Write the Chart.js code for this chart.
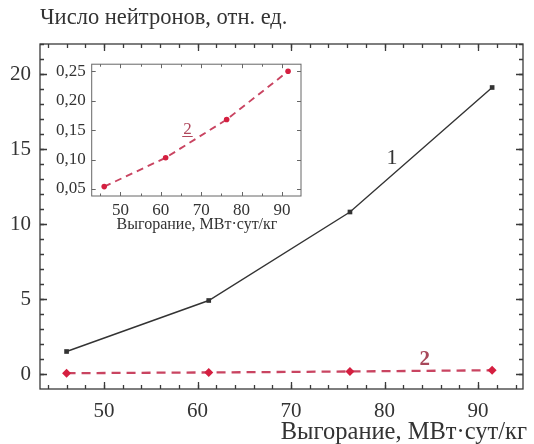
<!DOCTYPE html>
<html><head><meta charset="utf-8">
<script src="https://cdn.jsdelivr.net/npm/chart.js@4/dist/chart.umd.min.js"></script>
<style>
html,body{margin:0;padding:0;background:#fff}
#wrap{position:relative;width:534px;height:444px;overflow:hidden}
canvas{position:absolute;display:block}
</style>
</head><body>
<div id="wrap">
<canvas id="main" width="534" height="444" style="left:0;top:0;width:534px;height:444px"></canvas>
<canvas id="inset" width="270" height="190" style="left:40px;top:48px;width:270px;height:190px"></canvas>
</div>
<script>
// ---- data ----
const burnup = [46.0, 61.2, 76.3, 91.5];          // MW·day/kg
const neutrons1 = [1.5, 4.9, 10.8, 19.1];         // curve 1
const neutrons2 = [0.054, 0.103, 0.168, 0.25];    // curve 2
const mainXTicks = [50, 60, 70, 80, 90];
const mainYTicks = [0, 5, 10, 15, 20];
const insetXTicks = [50, 60, 70, 80, 90];
const insetYTicks = [0.05, 0.10, 0.15, 0.20, 0.25];
const yTitle = 'Число нейтронов, отн. ед.';
const xTitle = 'Выгорание, МВт·сут/кг';

const SERIF = '"Liberation Serif", "DejaVu Serif", serif';
const INK = '#333';
const RED_LINE = '#c94461';
const RED_PT = '#d51f40';

function range(a, b, s) { const r = []; for (let v = a; v <= b + 1e-9; v += s) r.push(+v.toFixed(6)); return r; }

// frame + inward ticks on all four sides, positioned by the chart's own scales
const frameTicks = {
  id: 'frameTicks',
  afterDraw(chart, args, o) {
    const {ctx, chartArea: a, scales: {x, y}} = chart;
    ctx.save();
    ctx.strokeStyle = o.color; ctx.lineWidth = o.width;
    ctx.strokeRect(a.left, a.top, a.right - a.left, a.bottom - a.top);
    const drawX = (vals, len) => vals.forEach(v => {
      const px = Math.round(x.getPixelForValue(v)) + 0.5;
      if (px < a.left || px > a.right) return;
      ctx.beginPath(); ctx.moveTo(px, a.bottom); ctx.lineTo(px, a.bottom - len);
      ctx.moveTo(px, a.top); ctx.lineTo(px, a.top + len); ctx.stroke();
    });
    const drawY = (vals, len) => vals.forEach(v => {
      const py = Math.round(y.getPixelForValue(v)) + 0.5;
      if (py < a.top || py > a.bottom) return;
      ctx.beginPath(); ctx.moveTo(a.left, py); ctx.lineTo(a.left + len, py);
      ctx.moveTo(a.right, py); ctx.lineTo(a.right - len, py); ctx.stroke();
    });
    drawX(o.xMinor, o.minorLen); drawY(o.yMinor, o.minorLen);
    drawX(o.xMajor, o.majorLen); drawY(o.yMajor, o.majorLen);
    ctx.restore();
  }
};

// text items: titles and curve labels
const texts = {
  id: 'texts',
  afterDraw(chart, args, o) {
    const {ctx, scales: {x, y}} = chart;
    ctx.save();
    (o.items || []).forEach(t => {
      ctx.font = t.font; ctx.fillStyle = t.color; ctx.textAlign = t.align || 'center';
      ctx.textBaseline = 'middle';
      const px = t.data ? x.getPixelForValue(t.x) : t.x;
      const py = t.data ? y.getPixelForValue(t.y) : t.y;
      ctx.fillText(t.text, px, py);
      if (t.underline) {
        const w = ctx.measureText(t.text).width;
        ctx.strokeStyle = t.color; ctx.lineWidth = 1;
        ctx.beginPath(); ctx.moveTo(px - w / 2 - 1, py + t.underline); ctx.lineTo(px + w / 2 + 1, py + t.underline); ctx.stroke();
      }
    });
    ctx.restore();
  }
};

const pts = ys => burnup.map((b, i) => ({x: b, y: ys[i]}));

// ---------- main chart ----------
new Chart(document.getElementById('main'), {
  type: 'line',
  data: {
    datasets: [
      { data: pts(neutrons1), borderColor: INK, borderWidth: 1.4, pointStyle: 'rect', pointRadius: 3.3,
        pointBackgroundColor: INK, pointBorderColor: INK, pointBorderWidth: 0, tension: 0 },
      { data: pts(neutrons2), borderColor: RED_LINE, borderWidth: 2.3, borderDash: [9, 6], pointStyle: 'rectRot',
        pointRadius: 4.5, pointBackgroundColor: RED_PT, pointBorderColor: RED_PT, pointBorderWidth: 0, tension: 0 }
    ]
  },
  options: {
    responsive: false, animation: false, devicePixelRatio: 1,
    layout: { padding: { left: 0, right: 11, top: 44, bottom: 0 } },
    plugins: {
      legend: { display: false }, tooltip: { enabled: false },
      frameTicks: { color: '#3a3a3a', width: 1.3, majorLen: 7, minorLen: 4,
        xMajor: mainXTicks, yMajor: mainYTicks, xMinor: range(44, 94, 2), yMinor: range(-1, 22, 1) },
      texts: { items: [
        { text: yTitle, x: 40, y: 18, align: 'left', font: '22.5px ' + SERIF, color: INK },
        { text: xTitle, x: 527, y: 433, align: 'right', font: '24.5px ' + SERIF, color: INK },
        { text: '1', data: true, x: 80.8, y: 14.4, font: '22px ' + SERIF, color: INK },
        { text: '2', data: true, x: 84.3, y: 0.95, font: 'bold 21px ' + SERIF, color: '#a8485a' }
      ] }
    },
    scales: {
      x: { type: 'linear', min: 43.16, max: 94.8,
        afterBuildTicks: s => { s.ticks = mainXTicks.map(v => ({value: v})); },
        afterFit: s => { s.height = 55; },
        grid: { display: false, drawTicks: false }, border: { display: false },
        ticks: { padding: 10, color: INK, font: { family: SERIF, size: 21 }, maxRotation: 0, autoSkip: false } },
      y: { type: 'linear', min: -1, max: 22,
        afterBuildTicks: s => { s.ticks = mainYTicks.map(v => ({value: v})); },
        afterFit: s => { s.width = 40; },
        grid: { display: false, drawTicks: false }, border: { display: false },
        ticks: { padding: 9, color: INK, font: { family: SERIF, size: 21 }, autoSkip: false } }
    }
  },
  plugins: [frameTicks, texts]
});

// ---------- inset chart ----------
new Chart(document.getElementById('inset'), {
  type: 'line',
  data: {
    datasets: [
      { data: pts(neutrons2), borderColor: RED_LINE, borderWidth: 1.9, borderDash: [7, 5], pointStyle: 'circle',
        pointRadius: 2.8, pointBackgroundColor: RED_PT, pointBorderColor: RED_PT, pointBorderWidth: 0, tension: 0 }
    ]
  },
  options: {
    responsive: false, animation: false, devicePixelRatio: 1,
    layout: { padding: { left: 0, right: 9, top: 8, bottom: 0 } },
    plugins: {
      legend: { display: false }, tooltip: { enabled: false },
      frameTicks: { color: '#666', width: 1, majorLen: 4, minorLen: 2.5,
        xMajor: insetXTicks, yMajor: insetYTicks, xMinor: range(45, 90, 5), yMinor: [] },
      texts: { items: [
        { text: xTitle, x: 157, y: 177, align: 'center', font: '16px ' + SERIF, color: INK },
        { text: '2', data: true, x: 66.6, y: 0.151, font: '17px ' + SERIF, color: '#b0475c', underline: 7 }
      ] }
    },
    scales: {
      x: { type: 'linear', min: 42.9, max: 94.7,
        afterBuildTicks: s => { s.ticks = insetXTicks.map(v => ({value: v})); },
        afterFit: s => { s.height = 42; },
        grid: { display: false, drawTicks: false }, border: { display: false },
        ticks: { padding: 4, color: INK, font: { family: SERIF, size: 17 }, maxRotation: 0, autoSkip: false } },
      y: { type: 'linear', min: 0.038, max: 0.262,
        afterBuildTicks: s => { s.ticks = insetYTicks.map(v => ({value: v})); },
        afterFit: s => { s.width = 51.7; },
        grid: { display: false, drawTicks: false }, border: { display: false },
        ticks: { padding: 6, color: INK, font: { family: SERIF, size: 17 }, autoSkip: false,
          callback: v => v.toFixed(2).replace('.', ',') } }
    }
  },
  plugins: [frameTicks, texts]
});
</script>
</body></html>
